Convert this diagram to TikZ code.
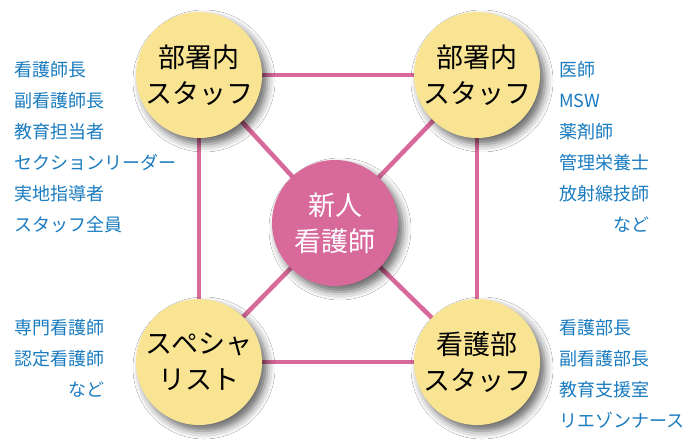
\documentclass[tikz,border=0pt]{standalone}
\usepackage{fontspec}
\setmainfont{Noto Sans CJK JP}
\usepackage{xcolor}
\usetikzlibrary{backgrounds,shadows,shadows.blur}

\definecolor{rosepink}{HTML}{D86A9B}
\definecolor{paleyellow}{HTML}{F8E493}
\definecolor{listblue}{HTML}{1A7CC0}

\tikzset{
  staff/.style={circle, fill=paleyellow, minimum size=126pt, inner sep=0pt,
    align=center, font=\fontsize{27}{36}\selectfont,
    blur shadow={shadow xshift=5pt, shadow yshift=-6pt, shadow blur radius=8pt, shadow opacity=60}},
  newcomer/.style={staff, fill=rosepink, text=white},
  link/.style={rosepink, line width=4.5pt},
  member/.style={listblue, align=left, inner sep=0pt, anchor=west,
    font=\fontsize{18}{31}\selectfont},
}

\begin{document}
\begin{tikzpicture}[x=1pt,y=-1pt]
    \useasboundingbox (0,0) rectangle (700,447);

    % Circles
    \node[staff] (ward-l) at (199,75) {部署内\\スタッフ};
    \node[staff] (ward-r) at (477,75) {部署内\\スタッフ};
    \node[staff] (special) at (199,362) {スペシャ\\リスト};
    \node[staff] (dept) at (477,362) {看護部\\スタッフ};
    \node[newcomer] (nurse) at (335,223) {新人\\看護師};

    % Connecting lines
    \begin{scope}[on background layer]
        \fill[white] (0,0) rectangle (700,447);
        \draw[link] (ward-l.center) -- (ward-r.center) -- (dept.center) -- (special.center) -- cycle;
        \draw[link] (nurse.center) -- (ward-l.center);
        \draw[link] (nurse.center) -- (ward-r.center);
        \draw[link] (nurse.center) -- (special.center);
        \draw[link] (nurse.center) -- (dept.center);
    \end{scope}

    % Member lists
    \node[member] (ward-l-list) at (14,147) {看護師長\\副看護師長\\教育担当者\\セクションリーダー\\実地指導者\\スタッフ全員};
    \node[member] (ward-r-list) at (559,147) {医師\\MSW\\薬剤師\\管理栄養士\\放射線技師\\\makebox[5em][r]{など}};
    \node[member] (special-list) at (14,358) {専門看護師\\認定看護師\\\makebox[5em][r]{など}};
    \node[member] (dept-list) at (559,374) {看護部長\\副看護部長\\教育支援室\\リエゾンナース};
\end{tikzpicture}
\end{document}
